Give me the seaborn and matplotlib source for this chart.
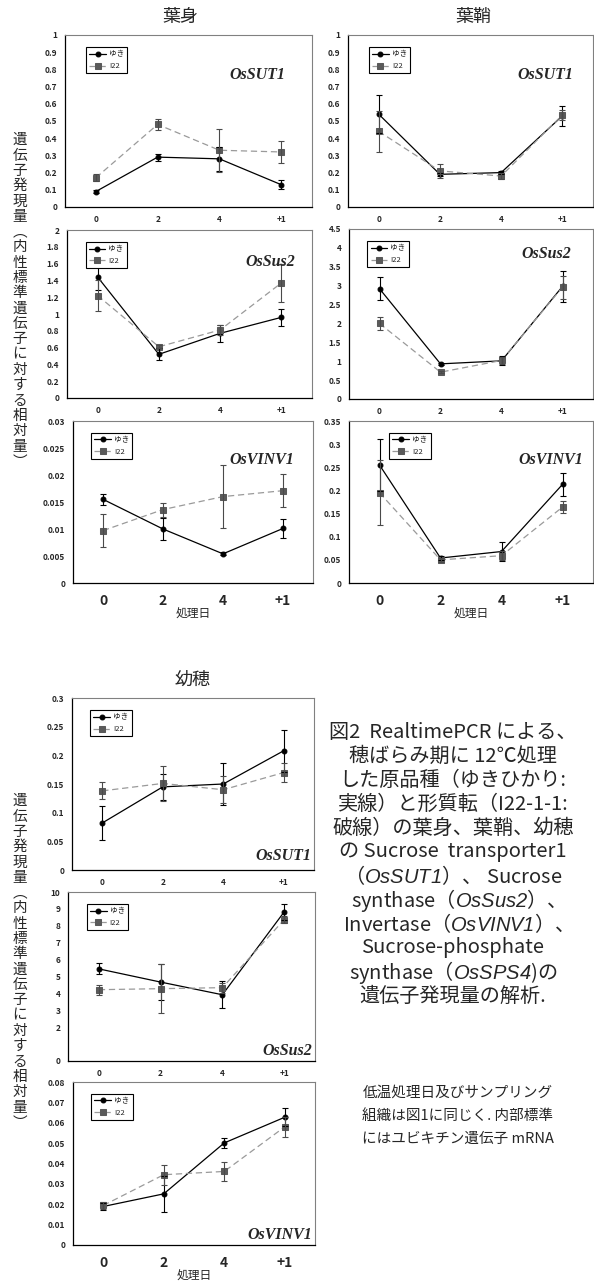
import numpy as np
import pandas as pd
import seaborn as sns
import matplotlib.pyplot as plt

days = ["0", "2", "4", "+1"]
cultivars = ["ゆき", "I22"]

# 葉身
blade_sut1_yuki = [0.09, 0.29, 0.28, 0.13]
blade_sut1_yuki_err = [0.01, 0.02, 0.07, 0.025]
blade_sut1_i22 = [0.17, 0.48, 0.33, 0.32]
blade_sut1_i22_err = [0.02, 0.03, 0.125, 0.065]

blade_sus2_yuki = [1.44, 0.52, 0.77, 0.96]
blade_sus2_yuki_err = [0.16, 0.07, 0.10, 0.10]
blade_sus2_i22 = [1.22, 0.61, 0.81, 1.37]
blade_sus2_i22_err = [0.19, 0.02, 0.06, 0.23]

blade_vinv1_yuki = [0.0155, 0.0100, 0.0054, 0.0101]
blade_vinv1_yuki_err = [0.001, 0.002, 0.0003, 0.0018]
blade_vinv1_i22 = [0.0097, 0.0136, 0.0160, 0.0171]
blade_vinv1_i22_err = [0.003, 0.0013, 0.0058, 0.003]

# 葉鞘
sheath_sut1_yuki = [0.54, 0.19, 0.20, 0.53]
sheath_sut1_yuki_err = [0.11, 0.01, 0.01, 0.06]
sheath_sut1_i22 = [0.44, 0.21, 0.18, 0.535]
sheath_sut1_i22_err = [0.12, 0.04, 0.015, 0.03]

sheath_sus2_yuki = [2.92, 0.93, 1.01, 2.98]
sheath_sus2_yuki_err = [0.30, 0.03, 0.12, 0.42]
sheath_sus2_i22 = [2.00, 0.71, 1.02, 2.96]
sheath_sus2_i22_err = [0.17, 0.03, 0.10, 0.30]

sheath_vinv1_yuki = [0.255, 0.054, 0.068, 0.213]
sheath_vinv1_yuki_err = [0.057, 0.005, 0.02, 0.024]
sheath_vinv1_i22 = [0.195, 0.050, 0.059, 0.164]
sheath_vinv1_i22_err = [0.07, 0.005, 0.01, 0.013]

# 幼穂
panicle_sut1_yuki = [0.082, 0.145, 0.150, 0.208]
panicle_sut1_yuki_err = [0.03, 0.023, 0.036, 0.037]
panicle_sut1_i22 = [0.138, 0.151, 0.140, 0.170]
panicle_sut1_i22_err = [0.015, 0.031, 0.024, 0.017]

panicle_sus2_yuki = [5.45, 4.67, 3.92, 8.82]
panicle_sus2_yuki_err = [0.32, 1.05, 0.8, 0.45]
panicle_sus2_i22 = [4.22, 4.28, 4.34, 8.36]
panicle_sus2_i22_err = [0.3, 1.45, 0.3, 0.2]

panicle_vinv1_yuki = [0.0189, 0.0251, 0.0501, 0.0627]
panicle_vinv1_yuki_err = [0.0015, 0.009, 0.0025, 0.0045]
panicle_vinv1_i22 = [0.0194, 0.0345, 0.0361, 0.0580]
panicle_vinv1_i22_err = [0.0015, 0.005, 0.0045, 0.005]

sns.set_style("white")
plt.rcParams['font.family'] = ['Noto Sans CJK JP', 'DejaVu Sans']
plt.rcParams['mathtext.fontset'] = 'custom'
plt.rcParams['mathtext.it'] = 'Liberation Sans:italic'
plt.rcParams['mathtext.rm'] = 'Liberation Sans:italic'

W, H = 594, 1283
fig = plt.figure(figsize=(W / 100, H / 100), dpi=100)

line_colors = {"ゆき": "black", "I22": "#9a9a9a"}
mark_colors = {"ゆき": "black", "I22": "#5a5a5a"}


def px_axes(l, t, r, b):
    return fig.add_axes([l / W, 1 - b / H, (r - l) / W, (b - t) / H])


def panel(rect, yuki, yuki_err, i22, i22_err, yticks, gene, gene_xy, leg_x,
          bottom=False, blank=None):
    ax = px_axes(*rect)
    df = pd.DataFrame({
        "pos": list(range(4)) * 2,
        "val": yuki + i22,
        "cv": ["ゆき"] * 4 + ["I22"] * 4,
    })
    sns.lineplot(data=df, x="pos", y="val", hue="cv", style="cv",
                 hue_order=cultivars, style_order=cultivars,
                 palette=line_colors, markers={"ゆき": "o", "I22": "s"},
                 dashes={"ゆき": "", "I22": (5, 3)}, markersize=4,
                 linewidth=0.9, errorbar=None, legend=False, ax=ax)
    for ln, cv in zip(ax.lines[:2], cultivars):
        ln.set_markerfacecolor(mark_colors[cv])
        ln.set_markeredgecolor(mark_colors[cv])
    ax.lines[0].set_markersize(3.5)
    ax.errorbar(range(4), yuki, yerr=yuki_err, fmt="none", ecolor="black",
                elinewidth=0.8, capsize=2, capthick=0.8)
    ax.errorbar(range(4), i22, yerr=i22_err, fmt="none", ecolor="#4a4a4a",
                elinewidth=0.8, capsize=2, capthick=0.8)
    ax.legend(ax.lines[:2], cultivars, loc="upper left",
              bbox_to_anchor=(leg_x, 0.95), fontsize=5.5, frameon=True,
              fancybox=False, edgecolor="black", framealpha=1,
              handlelength=2.2, borderpad=0.4, labelspacing=0.5,
              handletextpad=0.4).get_frame().set_linewidth(0.8)

    ax.set_xlim(-0.5, 3.5)
    ax.set_ylim(yticks[0], yticks[-1])
    ax.set_yticks(yticks)
    labels = ["%g" % round(v, 4) for v in yticks]
    if blank is not None:
        labels[blank] = ""
    ax.set_yticklabels(labels, fontsize=6, fontweight="bold")
    ax.set_xticks(range(4))
    ax.set_xticks([0.5, 1.5, 2.5], minor=True)
    ax.tick_params(axis="x", which="major", length=0,
                   pad=8 if bottom else 6)
    ax.tick_params(axis="x", which="minor", direction="in", length=3,
                   width=0.8)
    ax.tick_params(axis="y", direction="out", length=2.5, width=0.7, pad=3)
    if bottom:
        ax.set_xticklabels(days, fontsize=10, fontweight="bold")
        ax.set_xlabel("処理日", fontsize=8.5, labelpad=0)
    else:
        ax.set_xticklabels(days, fontsize=6, fontweight="bold")
        ax.set_xlabel("")
    ax.set_ylabel("")
    for side in ["left", "bottom"]:
        ax.spines[side].set_color("black")
        ax.spines[side].set_linewidth(0.9)
    for side in ["top", "right"]:
        ax.spines[side].set_color("#808080")
        ax.spines[side].set_linewidth(0.8)
    ax.text(gene_xy[0], gene_xy[1], gene, transform=ax.transAxes,
            ha="right", va="center", fontsize=11.5, fontweight="bold",
            fontstyle="italic", family="Liberation Serif")
    return ax


t1 = np.arange(0, 1.01, 0.1)
panel((65, 35, 312, 207), blade_sut1_yuki, blade_sut1_yuki_err,
      blade_sut1_i22, blade_sut1_i22_err, t1, "OsSUT1", (0.89, 0.77), 0.07)
panel((348, 35, 593, 207), sheath_sut1_yuki, sheath_sut1_yuki_err,
      sheath_sut1_i22, sheath_sut1_i22_err, t1, "OsSUT1", (0.92, 0.77), 0.07)
panel((67, 230, 312, 398), blade_sus2_yuki, blade_sus2_yuki_err,
      blade_sus2_i22, blade_sus2_i22_err, np.arange(0, 2.01, 0.2),
      "OsSus2", (0.93, 0.81), 0.06)
panel((349, 229, 593, 399), sheath_sus2_yuki, sheath_sus2_yuki_err,
      sheath_sus2_i22, sheath_sus2_i22_err, np.arange(0, 4.51, 0.5),
      "OsSus2", (0.91, 0.85), 0.06)
panel((73, 421, 313, 583), blade_vinv1_yuki, blade_vinv1_yuki_err,
      blade_vinv1_i22, blade_vinv1_i22_err, np.arange(0, 0.0301, 0.005),
      "OsVINV1", (0.92, 0.76), 0.06, bottom=True)
panel((349, 421, 593, 583), sheath_vinv1_yuki, sheath_vinv1_yuki_err,
      sheath_vinv1_i22, sheath_vinv1_i22_err, np.arange(0, 0.351, 0.05),
      "OsVINV1", (0.96, 0.76), 0.15, bottom=True)
panel((72, 698, 314, 870), panicle_sut1_yuki, panicle_sut1_yuki_err,
      panicle_sut1_i22, panicle_sut1_i22_err, np.arange(0, 0.301, 0.05),
      "OsSUT1", (0.99, 0.08), 0.06)
panel((68, 892, 315, 1061), panicle_sus2_yuki, panicle_sus2_yuki_err,
      panicle_sus2_i22, panicle_sus2_i22_err, np.arange(0, 10.1, 1),
      "OsSus2", (0.99, 0.06), 0.06, blank=1)
panel((73, 1082, 315, 1245), panicle_vinv1_yuki, panicle_vinv1_yuki_err,
      panicle_vinv1_i22, panicle_vinv1_i22_err, np.arange(0, 0.0801, 0.01),
      "OsVINV1", (0.99, 0.06), 0.06, bottom=True)

# titles
fig.text(180 / W, 1 - 17 / H, "葉身", ha="center", va="center", fontsize=13)
fig.text(473 / W, 1 - 17 / H, "葉鞘", ha="center", va="center", fontsize=13)
fig.text(193 / W, 1 - 680 / H, "幼穂", ha="center", va="center", fontsize=13)

# vertical y labels
ylab = "遺伝子発現量︵内性標準遺伝子に対する相対量︶"
for yc in [301, 962]:
    fig.text(20 / W, 1 - yc / H, "\n".join(ylab), ha="center", va="center",
             fontsize=10.5, linespacing=1.12, multialignment="center")

# caption
caption = [
    "図2  RealtimePCR による、",
    "穂ばらみ期に 12℃処理",
    "した原品種（ゆきひかり:",
    "実線）と形質転（I22-1-1:",
    "破線）の葉身、葉鞘、幼穂",
    "の Sucrose  transporter1",
    "（$\\mathit{OsSUT1}$）、 Sucrose",
    "synthase（$\\mathit{OsSus2}$）、",
    "Invertase（$\\mathit{OsVINV1}$）、",
    "Sucrose-phosphate",
    "synthase（$\\mathit{OsSPS4}$)の",
    "遺伝子発現量の解析.",
]
for i, line in enumerate(caption):
    fig.text(453 / W, 1 - (732 + 24 * i) / H, line, ha="center", va="center",
             fontsize=14.5)

note = [
    "低温処理日及びサンプリング",
    "組織は図1に同じく. 内部標準",
    "にはユビキチン遺伝子 mRNA",
]
for i, line in enumerate(note):
    fig.text(458 / W, 1 - (1093 + 23 * i) / H, line, ha="center", va="center",
             fontsize=10.5)

fig.savefig("out.png", dpi=100)
